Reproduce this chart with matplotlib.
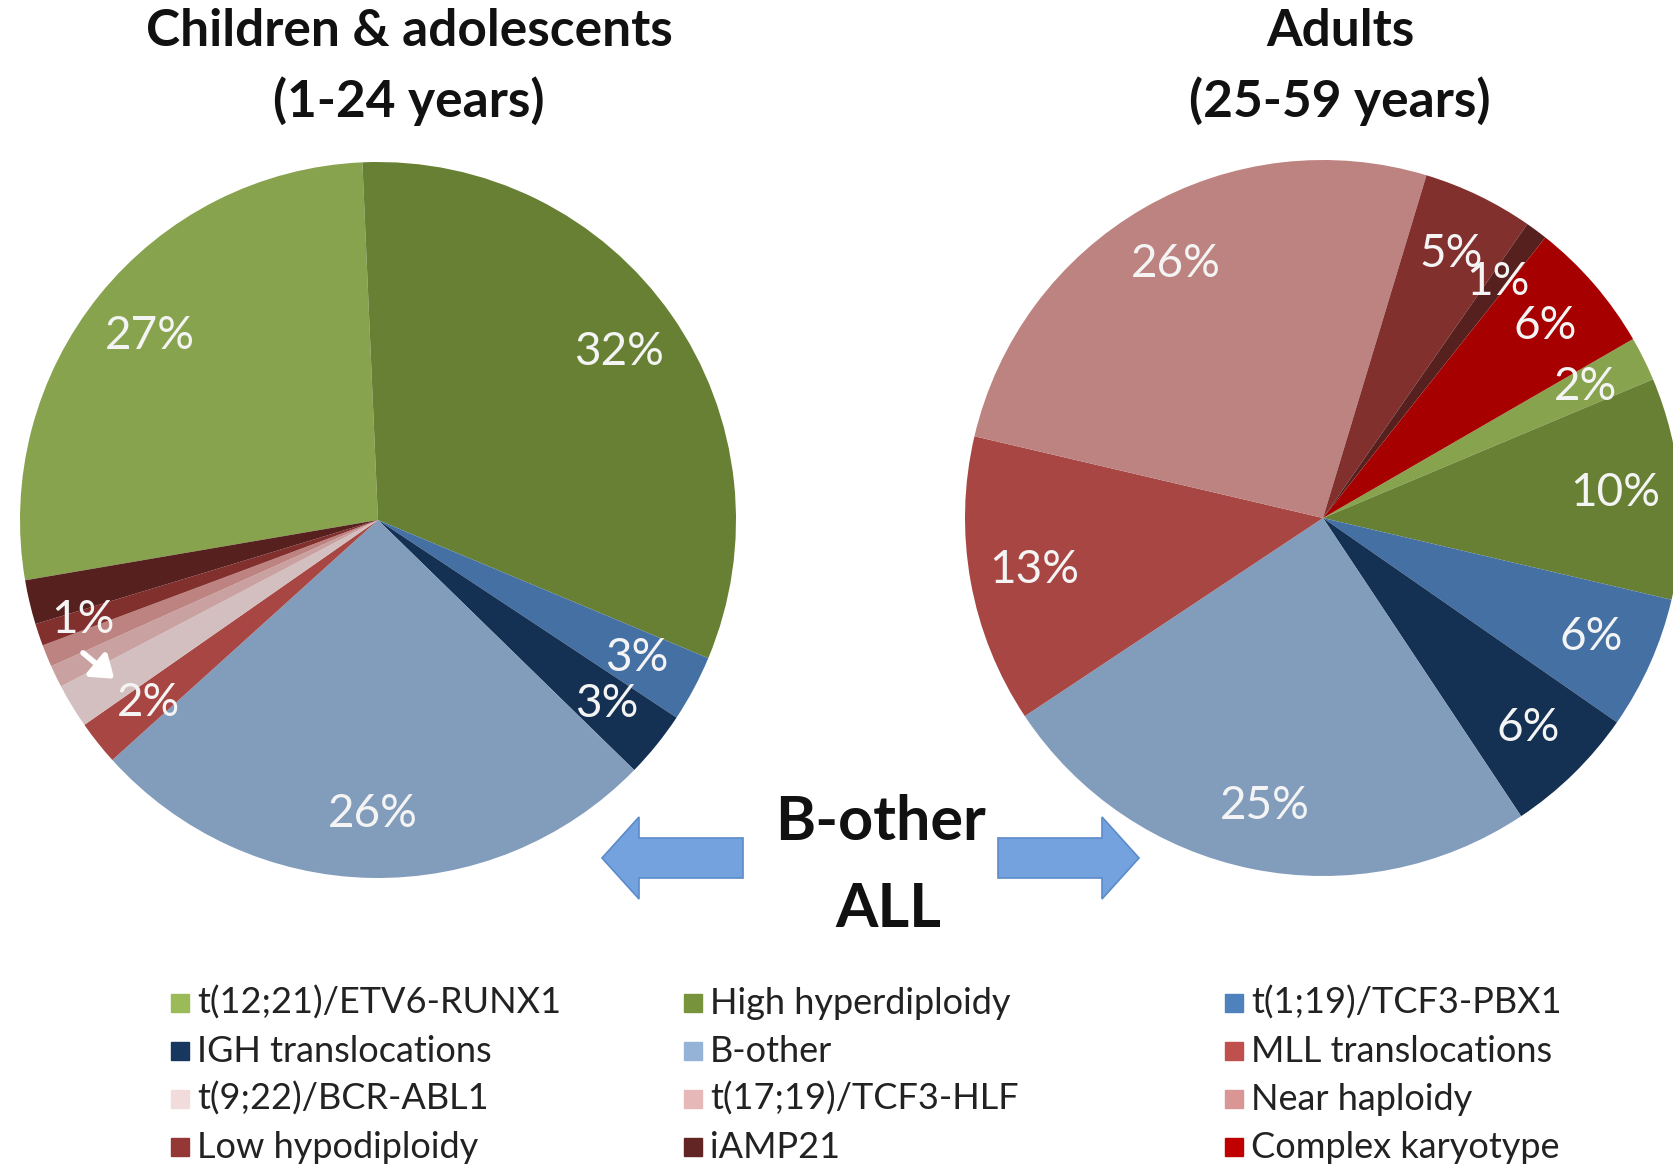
import matplotlib.pyplot as plt
import numpy as np
from matplotlib.colors import to_rgb

# subgroup order is the legend order (row by row)
categories = ['t(12;21)/ETV6-RUNX1', 'High hyperdiploidy', 't(1;19)/TCF3-PBX1',
              'IGH translocations', 'B-other', 'MLL translocations',
              't(9;22)/BCR-ABL1', 't(17;19)/TCF3-HLF', 'Near haploidy',
              'Low hypodiploidy', 'iAMP21', 'Complex karyotype']
legend_colors = ['#9BBB59', '#77933C', '#4F81BD', '#17375E', '#95B3D7', '#C0504D',
                 '#F2DCDB', '#E6B9B8', '#D99694', '#953735', '#632523', '#C00000']

children = [27, 32, 3, 3, 26, 2, 2, 1, 1, 1, 2, 0]
adults = [2, 10, 6, 6, 25, 13, 0, 0, 26, 5, 1, 6]

titles = [('Children & adolescents', '(1-24 years)'), ('Adults', '(25-59 years)')]

W, H = 1673, 1165
FONT = ['Lato', 'DejaVu Sans']
plt.rcParams['font.family'] = FONT

# the slices in the source look a bit darker than the legend swatches
pie_colors = [tuple(c * 0.87 for c in to_rgb(h)) for h in legend_colors]
LABEL_COLOR = '#F4F4F4'


def draw_pie(ax, values, center, radius, startangle):
    wedges, _ = ax.pie(values, colors=pie_colors, startangle=startangle,
                       counterclock=False, center=center, radius=radius,
                       wedgeprops=dict(linewidth=0))
    return wedges


def wedge_point(w, center, radius, dist):
    ang = np.deg2rad((w.theta1 + w.theta2) / 2)
    return center[0] + dist * radius * np.cos(ang), center[1] + dist * radius * np.sin(ang)


def label_wedges(ax, wedges, values, center, radius, min_val, dist=0.82):
    for w, v in zip(wedges, values):
        if v < min_val:
            continue
        x, y = wedge_point(w, center, radius, dist)
        ax.text(x, y, f'{v}%', color=LABEL_COLOR, fontsize=33,
                ha='center', va='center')


fig = plt.figure(figsize=(W / 100, H / 100), dpi=100)
ax = fig.add_axes([0, 0, 1, 1])

radius = 358
c_left = (378, H - 520)
c_right = (1323, H - 518)

# left pie: the t(12;21) / hyperdiploidy border sits a touch left of 12 o'clock
left_start = 92.5 + 360 * children[0] / sum(children)
w_left = draw_pie(ax, children, c_left, radius, left_start)
w_right = draw_pie(ax, adults, c_right, radius, 30)

label_wedges(ax, w_left, children, c_left, radius, min_val=3)
label_wedges(ax, w_right, adults, c_right, radius, min_val=1)

# small subgroups on the left pie: one "1%" and one "2%" with a little arrow
x1, y1 = wedge_point(w_left[9], c_left, radius, 0.87)
x2, y2 = wedge_point(w_left[5], c_left, radius, 0.82)
ax.text(x1, y1, '1%', color=LABEL_COLOR, fontsize=33, ha='center', va='center')
ax.text(x2, y2, '2%', color=LABEL_COLOR, fontsize=33, ha='center', va='center')
ax.annotate('', xy=(x2 - 34, y2 + 24), xytext=(x1, y1 - 33),
            arrowprops=dict(arrowstyle='-|>,head_width=0.5,head_length=0.7',
                            mutation_scale=18, color='white', lw=4,
                            shrinkA=0, shrinkB=0))

for (line1, line2), cx in zip(titles, (409, 1340)):
    ax.text(cx, H - 32, line1, fontsize=37, fontweight='bold', ha='center',
            va='center', color='#111111')
    ax.text(cx, H - 101, line2, fontsize=37, fontweight='bold', ha='center',
            va='center', color='#111111')

# centre caption with the two block arrows
ax.text(881, H - 840, 'B-other', fontsize=44, fontweight='bold', ha='center',
        va='baseline', color='#111111')
ax.text(888, H - 927, 'ALL', fontsize=44, fontweight='bold', ha='center',
        va='baseline', color='#111111')
for x0, x1a in ((743, 602), (998, 1139)):
    ax.arrow(x0, H - 858, x1a - x0, 0, width=40, head_width=82, head_length=37,
             length_includes_head=True, fc='#74A2DE', ec='#5B8BC9', lw=1.2)

# legend laid out row by row in three columns
col_x = [180, 693, 1234]
row_y = [1003, 1051, 1099, 1147]
for i, (name, col) in enumerate(zip(categories, legend_colors)):
    x = col_x[i % 3]
    y = H - row_y[i // 3]
    ax.plot(x, y, marker='s', markersize=12.5, color=col, linestyle='none')
    ax.text(x + 17, y, name, fontsize=26, ha='left', va='center', color='#222222')

ax.set_xlim(0, W)
ax.set_ylim(0, H)
ax.axis('off')

fig.savefig('out.png', dpi=100)
